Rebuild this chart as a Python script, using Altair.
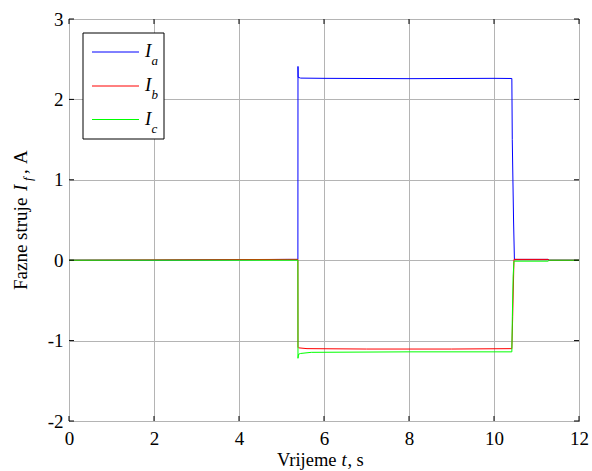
import altair as alt
import pandas as pd

# ---- data ----
t_a = [0.0, 2.0, 5.15, 5.386, 5.388, 5.392, 5.45, 6.0, 8.0, 10.0, 10.42, 10.43, 10.46, 10.48, 11.27, 11.3, 12.0]
i_a = [0.0, 0.0, 0.01, 0.01, 2.41, 2.275, 2.265, 2.262, 2.258, 2.262, 2.26, 1.5, 0.5, 0.01, 0.01, 0.0, 0.0]

t_b = [0.0, 5.15, 5.386, 5.388, 5.40, 5.6, 7.0, 9.0, 10.42, 10.44, 10.47, 11.27, 11.3, 12.0]
i_b = [0.0, 0.01, 0.01, -1.083, -1.09, -1.10, -1.105, -1.105, -1.10, -0.7, 0.01, 0.01, 0.0, 0.0]

t_c = [0.0, 5.386, 5.388, 5.40, 5.45, 5.7, 8.0, 10.42, 10.43, 10.45, 10.47, 11.27, 11.3, 12.0]
i_c = [0.0, 0.0, -1.22, -1.17, -1.16, -1.146, -1.14, -1.14, -0.75, -0.2, -0.012, -0.012, 0.0, 0.0]

x_ticks = [0, 2, 4, 6, 8, 10, 12]
y_ticks = [-2, -1, 0, 1, 2, 3]
subscripts = ["a", "b", "c"]
colors = ["#0000ff", "#ff0000", "#00ff00"]
x_title_parts = ["Vrijeme", "t", ",", "s"]
y_title_parts = ["Fazne struje", "I", "f", ",", "A"]

FONT = "'Liberation Serif', 'Times New Roman', Times, serif"
FS = 19
W, H = 510, 402

xs = alt.Scale(domain=[0, 12], nice=False, zero=False)
ys = alt.Scale(domain=[-2, 3], nice=False, zero=False)

common_axis = dict(
    title=None, grid=True, gridColor="#b4b4b4", gridWidth=1, ticks=False,
    domain=False, labelFont=FONT, labelFontSize=FS, labelColor="black",
    labelFlush=False, labelOverlap=False, labelExpr="'' + datum.value",
)
x_axis = alt.Axis(values=x_ticks, labelPadding=8, **common_axis)
y_axis = alt.Axis(values=y_ticks, labelPadding=6, **common_axis)


def series(ts, vs, color):
    df = pd.DataFrame({"t": ts, "v": vs})
    return alt.Chart(df).mark_line(color=color, strokeWidth=1).encode(
        x=alt.X("t:Q", scale=xs, axis=x_axis),
        y=alt.Y("v:Q", scale=ys, axis=y_axis),
    )


layers = [series(t_a, i_a, colors[0]), series(t_b, i_b, colors[1]), series(t_c, i_c, colors[2])]

# inward tick marks on all four sides
xt = pd.DataFrame({"t": x_ticks})
yt = pd.DataFrame({"v": y_ticks})
TL = 5
for y0, y1 in [(H, H - TL), (0, TL)]:
    layers.append(alt.Chart(xt).mark_rule(color="black", strokeWidth=1).encode(
        x=alt.X("t:Q", scale=xs, axis=x_axis), y=alt.value(y0), y2=alt.value(y1)))
for x0, x1 in [(0, TL), (W - TL, W)]:
    layers.append(alt.Chart(yt).mark_rule(color="black", strokeWidth=1).encode(
        y=alt.Y("v:Q", scale=ys, axis=y_axis), x=alt.value(x0), x2=alt.value(x1)))

dummy = pd.DataFrame({"k": [0]})


def txt(s, x, y, size=FS, italic=False, angle=0):
    return alt.Chart(dummy).mark_text(
        text=s, font=FONT, fontSize=size, fontStyle="italic" if italic else "normal",
        align="left", baseline="alphabetic", angle=angle, color="black",
    ).encode(x=alt.value(x), y=alt.value(y))


# legend box
layers.append(alt.Chart(dummy).mark_rect(fill="white", stroke="black", strokeWidth=1).encode(
    x=alt.value(14), x2=alt.value(95), y=alt.value(14), y2=alt.value(120)))
leg_line_y = [33, 67, 100.5]
leg_text_y = [38, 72, 106]
for i in range(3):
    layers.append(alt.Chart(dummy).mark_rule(color=colors[i], strokeWidth=1).encode(
        x=alt.value(23), x2=alt.value(70), y=alt.value(leg_line_y[i])))
    layers.append(txt("I", 76, leg_text_y[i], italic=True))
    layers.append(txt(subscripts[i], 82.5, leg_text_y[i] + 8, size=13, italic=True))

# x title: Vrijeme t, s
XT = 18.5
layers.append(txt(x_title_parts[0], 208, 447, size=XT))
layers.append(txt(x_title_parts[1], 272.5, 447, size=XT, italic=True))
layers.append(txt(x_title_parts[2], 278.5, 447, size=XT))
layers.append(txt(x_title_parts[3], 287.5, 447, size=XT))

# y title: Fazne struje I_f, A (rotated)
layers.append(txt(y_title_parts[0], -42, 271, angle=270))
layers.append(txt(y_title_parts[1], -42, 172, italic=True, angle=270))
layers.append(txt(y_title_parts[2], -37, 162, size=13, italic=True, angle=270))
layers.append(txt(y_title_parts[3], -42, 155, angle=270))
layers.append(txt(y_title_parts[4], -42, 145, angle=270))

chart = alt.layer(*layers).properties(
    width=W, height=H,
    autosize=alt.AutoSizeParams(type="none"),
    padding={"left": 69, "top": 19, "right": 13, "bottom": 50},
    background="white",
).configure_view(
    stroke="black", strokeWidth=1
).configure_axis(
    labelFont=FONT, labelFontSize=FS, labelColor="black"
).configure_text(font=FONT)

chart.save("out.html", embed_options={"renderer": "svg", "actions": False})
